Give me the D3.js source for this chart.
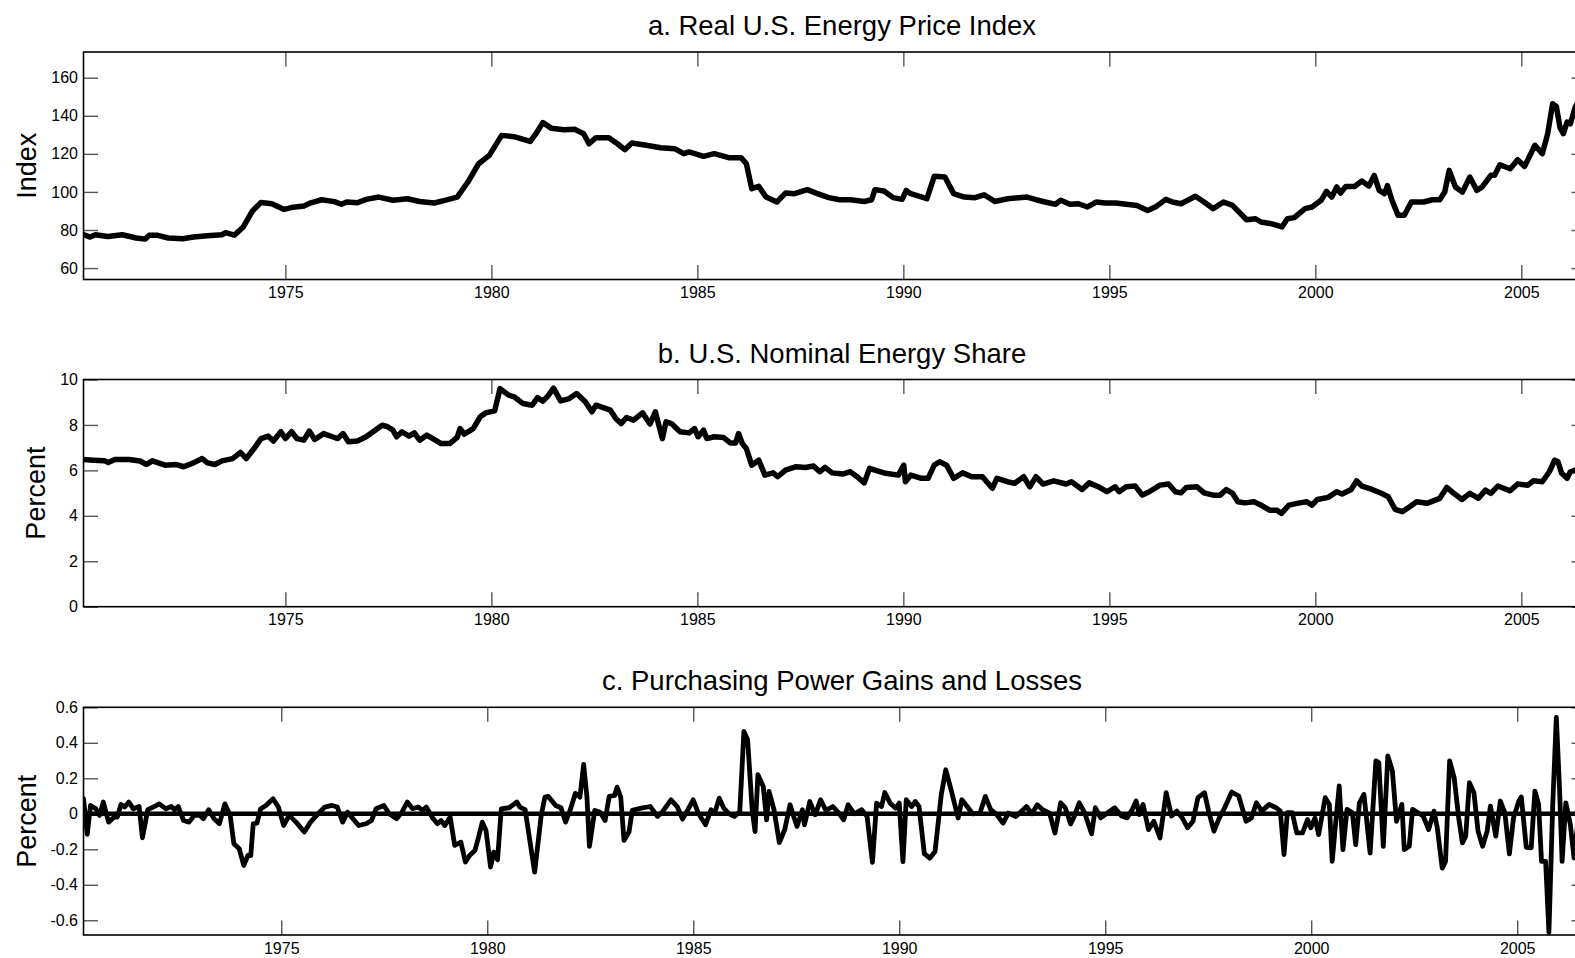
<!DOCTYPE html>
<html>
<head>
<meta charset="utf-8">
<script src="https://cdn.jsdelivr.net/npm/d3@7"></script>
<style>
  html, body { margin: 0; padding: 0; background: #fff; overflow: hidden; }
  svg { display: block; }
  text { font-family: "Liberation Sans", Arial, Helvetica, sans-serif; fill: #000; }
</style>
</head>
<body>
<svg id="chart" width="1600" height="958"></svg>
<script>
// ---- data -------------------------------------------------------------
const yearTicks = [1975, 1980, 1985, 1990, 1995, 2000, 2005];

// a. Real U.S. energy price index (decimal year, index)
const priceYears = [
  1970.11,1970.26,1970.39,1970.69,1971.04,1971.38,1971.60,1971.69,1971.90,1972.16,
  1972.51,1972.77,1973.11,1973.46,1973.55,1973.76,1973.98,1974.20,1974.41,1974.67,
  1974.97,1975.19,1975.45,1975.62,1975.88,1976.19,1976.36,1976.49,1976.75,1976.96,
  1977.27,1977.61,1977.96,1978.26,1978.61,1978.87,1979.17,1979.43,1979.69,1979.95,
  1980.25,1980.55,1980.94,1981.07,1981.25,1981.46,1981.76,1982.02,1982.24,1982.37,
  1982.54,1982.85,1983.06,1983.24,1983.41,1983.76,1984.11,1984.45,1984.67,1984.80,
  1985.15,1985.41,1985.76,1986.06,1986.19,1986.32,1986.49,1986.67,1986.93,1987.14,
  1987.36,1987.67,1987.88,1988.19,1988.45,1988.71,1989.05,1989.23,1989.31,1989.53,
  1989.75,1989.97,1990.07,1990.18,1990.40,1990.57,1990.75,1991.01,1991.22,1991.48,
  1991.74,1991.96,1992.22,1992.53,1993.00,1993.22,1993.44,1993.69,1993.82,1994.04,
  1994.25,1994.47,1994.68,1994.90,1995.15,1995.41,1995.67,1995.93,1996.14,1996.37,
  1996.53,1996.74,1997.09,1997.30,1997.52,1997.77,1997.99,1998.33,1998.55,1998.68,
  1998.93,1999.19,1999.32,1999.49,1999.75,1999.92,2000.14,2000.27,2000.40,2000.52,
  2000.61,2000.74,2000.95,2001.13,2001.30,2001.43,2001.55,2001.68,2001.75,2001.86,
  2002.01,2002.16,2002.33,2002.63,2002.84,2003.02,2003.14,2003.25,2003.40,2003.57,
  2003.75,2003.92,2004.05,2004.26,2004.35,2004.48,2004.73,2004.91,2005.08,2005.33,
  2005.51,2005.64,2005.76,2005.85,2005.94,2006.02,2006.11,2006.19,2006.31,2006.45
];
const priceValues = [
  77.5,76.3,77.5,76.6,77.5,75.8,75.2,77.2,77.2,75.8,
  75.4,76.3,77.0,77.5,78.6,77.3,81.6,90.0,94.5,93.8,
  90.8,92.0,92.6,94.3,95.9,94.9,93.5,94.7,94.3,96.1,
  97.3,95.6,96.4,95.0,94.2,95.6,97.3,105.2,114.8,119.2,
  129.7,129.0,126.5,130.2,136.4,133.4,132.7,132.9,130.6,125.3,
  128.5,128.5,125.3,122.2,125.7,124.5,123.2,122.7,120.1,121.0,
  118.7,120.1,118.0,118.0,114.8,101.7,102.9,97.3,94.7,99.4,
  99.1,101.2,99.4,97.0,95.9,95.9,95.0,95.9,101.2,100.5,
  97.0,96.1,100.8,99.1,97.7,96.4,108.2,107.8,99.1,97.3,
  97.0,98.5,95.0,96.4,97.3,95.9,94.7,93.5,95.6,93.5,
  93.8,92.1,94.7,94.2,94.2,93.5,92.9,90.3,92.4,96.1,
  94.7,93.8,97.7,94.7,91.2,94.7,92.9,85.4,85.9,84.2,
  83.3,81.6,85.9,86.5,91.2,92.1,95.6,100.3,97.3,102.6,
  99.4,102.9,102.9,105.7,103.1,108.7,100.8,99.1,103.3,95.6,
  87.7,87.7,94.7,94.7,95.9,95.9,99.9,111.3,102.6,99.9,
  107.8,100.8,102.6,108.7,108.7,114.3,112.2,116.9,113.4,124.5,
  120.1,130.6,146.3,144.9,133.7,130.6,136.7,135.8,144.6,150.0
];

// b. U.S. nominal energy share (decimal year, percent)
const shareYears = [
  1970.11,1970.34,1970.61,1970.70,1970.86,1971.21,1971.47,1971.63,1971.77,1972.08,
  1972.34,1972.53,1972.77,1972.98,1973.11,1973.29,1973.46,1973.72,1973.91,1974.05,
  1974.24,1974.41,1974.58,1974.71,1974.89,1975.00,1975.15,1975.28,1975.45,1975.58,
  1975.71,1975.93,1976.14,1976.27,1976.40,1976.53,1976.75,1976.96,1977.18,1977.35,
  1977.48,1977.61,1977.70,1977.83,1978.00,1978.13,1978.26,1978.43,1978.61,1978.78,
  1978.99,1979.17,1979.24,1979.34,1979.56,1979.73,1979.86,1980.08,1980.21,1980.42,
  1980.55,1980.77,1980.99,1981.12,1981.25,1981.37,1981.51,1981.68,1981.89,1982.07,
  1982.28,1982.44,1982.54,1982.89,1983.02,1983.15,1983.28,1983.45,1983.67,1983.85,
  1983.98,1984.15,1984.24,1984.37,1984.58,1984.80,1984.93,1985.02,1985.15,1985.23,
  1985.41,1985.63,1985.80,1985.93,1986.00,1986.09,1986.19,1986.32,1986.49,1986.64,
  1986.84,1986.95,1987.14,1987.40,1987.62,1987.82,1987.97,1988.10,1988.27,1988.53,
  1988.71,1988.88,1989.05,1989.18,1989.31,1989.57,1989.88,1990.01,1990.05,1990.18,
  1990.44,1990.60,1990.75,1990.88,1991.05,1991.22,1991.44,1991.66,1991.92,1992.16,
  1992.27,1992.53,1992.70,1992.92,1993.07,1993.22,1993.39,1993.65,1993.95,1994.08,
  1994.34,1994.51,1994.73,1994.94,1995.14,1995.24,1995.41,1995.63,1995.80,1995.97,
  1996.23,1996.44,1996.60,1996.74,1996.87,1997.13,1997.30,1997.52,1997.69,1997.84,
  1997.99,1998.12,1998.29,1998.51,1998.68,1998.89,1999.06,1999.18,1999.36,1999.62,
  1999.79,1999.92,2000.05,2000.31,2000.52,2000.65,2000.87,2001.00,2001.13,2001.38,
  2001.60,2001.77,2001.94,2002.11,2002.29,2002.46,2002.71,2003.02,2003.19,2003.36,
  2003.56,2003.75,2003.96,2004.13,2004.26,2004.43,2004.73,2004.91,2005.16,2005.29,
  2005.51,2005.68,2005.81,2005.89,2005.98,2006.11,2006.19,2006.31,2006.45
];
const shareValues = [
  6.48,6.45,6.42,6.35,6.48,6.48,6.41,6.26,6.42,6.23,
  6.26,6.16,6.33,6.52,6.33,6.26,6.42,6.52,6.79,6.52,
  6.96,7.40,7.51,7.29,7.70,7.40,7.70,7.40,7.33,7.73,
  7.36,7.62,7.48,7.40,7.62,7.26,7.29,7.48,7.77,7.99,
  7.92,7.77,7.48,7.70,7.51,7.65,7.33,7.55,7.36,7.18,
  7.18,7.45,7.84,7.60,7.84,8.36,8.53,8.62,9.60,9.31,
  9.24,8.94,8.87,9.20,9.05,9.27,9.62,9.06,9.16,9.38,
  9.02,8.58,8.87,8.65,8.28,8.06,8.33,8.21,8.53,8.04,
  8.58,7.40,8.14,8.06,7.70,7.65,7.84,7.48,7.77,7.40,
  7.48,7.45,7.21,7.21,7.62,7.18,6.96,6.23,6.45,5.79,
  5.89,5.72,6.01,6.16,6.13,6.19,5.94,6.13,5.89,5.84,
  5.94,5.72,5.45,6.09,6.01,5.87,5.79,6.23,5.50,5.79,
  5.65,5.65,6.23,6.38,6.23,5.65,5.89,5.72,5.72,5.21,
  5.65,5.50,5.43,5.72,5.28,5.72,5.40,5.54,5.40,5.50,
  5.16,5.45,5.28,5.06,5.28,5.06,5.28,5.31,4.91,5.06,
  5.35,5.40,5.06,5.01,5.25,5.28,5.01,4.91,4.91,5.16,
  4.99,4.62,4.57,4.62,4.47,4.25,4.25,4.11,4.47,4.57,
  4.62,4.47,4.72,4.81,5.06,4.96,5.16,5.54,5.31,5.16,
  4.99,4.84,4.28,4.18,4.40,4.62,4.55,4.77,5.25,4.99,
  4.72,4.99,4.77,5.13,4.99,5.31,5.10,5.40,5.35,5.54,
  5.50,5.94,6.45,6.38,5.87,5.65,5.94,6.01,6.20
];

// c. Purchasing power gains and losses (decimal year, percent)
const gainYears = [
  1970.20,1970.29,1970.37,1970.50,1970.59,1970.68,1970.81,1970.94,1971.02,1971.11,
  1971.20,1971.30,1971.41,1971.55,1971.63,1971.76,1971.89,1972.04,1972.20,1972.33,
  1972.41,1972.50,1972.63,1972.76,1972.89,1973.02,1973.11,1973.24,1973.37,1973.50,
  1973.63,1973.76,1973.85,1973.98,1974.09,1974.19,1974.26,1974.32,1974.41,1974.50,
  1974.63,1974.80,1974.93,1975.06,1975.19,1975.36,1975.56,1975.71,1975.89,1976.06,
  1976.23,1976.36,1976.49,1976.61,1976.71,1976.88,1977.06,1977.19,1977.30,1977.49,
  1977.62,1977.80,1977.93,1978.06,1978.19,1978.32,1978.43,1978.52,1978.66,1978.79,
  1978.88,1978.97,1979.10,1979.21,1979.36,1979.47,1979.57,1979.70,1979.79,1979.88,
  1979.97,1980.08,1980.16,1980.25,1980.34,1980.53,1980.66,1980.72,1980.79,1980.92,
  1981.15,1981.31,1981.40,1981.48,1981.66,1981.79,1981.90,1982.01,1982.14,1982.25,
  1982.34,1982.42,1982.48,1982.61,1982.74,1982.86,1982.96,1983.09,1983.15,1983.24,
  1983.32,1983.44,1983.52,1983.74,1983.96,1984.13,1984.26,1984.46,1984.61,1984.74,
  1984.87,1985.00,1985.13,1985.30,1985.43,1985.52,1985.63,1985.74,1985.87,1986.00,
  1986.13,1986.23,1986.32,1986.43,1986.50,1986.57,1986.70,1986.78,1986.84,1986.96,
  1987.09,1987.22,1987.35,1987.45,1987.52,1987.65,1987.70,1987.83,1987.96,1988.09,
  1988.22,1988.39,1988.52,1988.65,1988.76,1988.91,1989.09,1989.22,1989.35,1989.45,
  1989.57,1989.65,1989.78,1989.91,1990.00,1990.09,1990.17,1990.30,1990.39,1990.48,
  1990.61,1990.74,1990.87,1991.02,1991.13,1991.26,1991.43,1991.52,1991.65,1991.78,
  1991.96,1992.09,1992.22,1992.35,1992.52,1992.65,1992.83,1992.96,1993.09,1993.22,
  1993.35,1993.48,1993.65,1993.78,1993.92,1994.03,1994.16,1994.24,1994.37,1994.50,
  1994.67,1994.76,1994.89,1995.06,1995.23,1995.40,1995.53,1995.66,1995.75,1995.83,
  1995.92,1996.05,1996.18,1996.33,1996.48,1996.61,1996.74,1996.87,1997.00,1997.13,
  1997.25,1997.41,1997.51,1997.64,1997.77,1997.90,1998.07,1998.24,1998.42,1998.55,
  1998.67,1998.80,1998.98,1999.15,1999.25,1999.34,1999.42,1999.54,1999.65,1999.79,
  1999.91,1999.99,2000.09,2000.18,2000.34,2000.44,2000.51,2000.59,2000.68,2000.77,
  2000.87,2001.00,2001.08,2001.17,2001.28,2001.43,2001.57,2001.64,2001.75,2001.86,
  2001.97,2002.07,2002.20,2002.26,2002.38,2002.46,2002.59,2002.72,2002.85,2002.98,
  2003.06,2003.18,2003.26,2003.36,2003.47,2003.58,2003.67,2003.75,2003.84,2003.95,
  2004.05,2004.16,2004.27,2004.35,2004.48,2004.59,2004.70,2004.81,2004.91,2005.04,
  2005.10,2005.22,2005.34,2005.43,2005.52,2005.59,2005.69,2005.77,2005.86,2005.95,
  2006.03,2006.09,2006.18,2006.29,2006.38,2006.47,2006.56
];
const gainValues = [
  0.085,-0.116,0.047,0.028,-0.009,0.066,-0.047,-0.019,-0.019,0.053,
  0.038,0.066,0.028,0.041,-0.135,0.023,0.038,0.056,0.028,0.041,
  0.023,0.041,-0.038,-0.047,-0.009,-0.009,-0.028,0.023,-0.028,-0.056,
  0.056,-0.009,-0.169,-0.197,-0.291,-0.235,-0.235,-0.056,-0.053,0.028,
  0.047,0.085,0.038,-0.066,-0.009,-0.047,-0.103,-0.047,0.000,0.038,
  0.047,0.038,-0.047,0.009,-0.019,-0.066,-0.056,-0.038,0.028,0.047,
  0.000,-0.028,0.009,0.066,0.028,0.038,0.019,0.038,-0.019,-0.056,
  -0.038,-0.066,-0.019,-0.178,-0.160,-0.272,-0.235,-0.207,-0.131,-0.047,
  -0.094,-0.300,-0.216,-0.259,0.028,0.034,0.056,0.066,0.038,0.023,
  -0.329,-0.009,0.094,0.098,0.047,0.034,-0.047,0.019,0.116,0.094,
  0.278,0.094,-0.184,0.019,0.009,-0.038,0.098,0.103,0.150,0.094,
  -0.150,-0.103,0.019,0.032,0.041,-0.015,0.013,0.079,0.041,-0.030,
  0.023,0.079,0.000,-0.062,0.023,0.004,0.088,0.032,0.000,-0.015,
  0.013,0.464,0.417,0.023,-0.100,0.220,0.154,-0.034,0.126,0.023,
  -0.162,-0.090,0.051,-0.024,-0.071,0.023,-0.062,0.069,-0.006,0.079,
  0.019,0.041,0.008,-0.034,0.051,0.000,0.023,-0.015,-0.274,0.060,
  0.041,0.120,0.060,0.032,0.060,-0.269,0.079,0.041,0.069,0.041,
  -0.225,-0.250,-0.212,0.107,0.248,0.135,-0.024,0.079,0.041,0.000,
  0.004,0.098,0.023,0.000,-0.053,0.004,-0.015,0.013,0.041,0.000,
  0.051,0.023,0.004,-0.109,0.062,0.034,-0.057,-0.019,0.062,0.006,
  -0.113,0.034,-0.023,0.006,0.034,-0.013,-0.023,0.025,0.072,-0.004,
  0.053,-0.089,-0.042,-0.136,0.119,-0.013,0.015,-0.023,-0.079,-0.042,
  0.091,0.119,0.015,-0.098,-0.023,0.034,0.123,0.100,-0.042,-0.023,
  0.062,0.015,0.053,0.034,0.015,-0.230,0.006,0.006,-0.108,-0.108,
  -0.032,-0.079,-0.023,-0.117,0.091,0.053,-0.268,-0.060,0.157,-0.202,
  0.025,0.006,-0.174,0.062,0.109,-0.221,0.298,0.289,-0.183,0.326,
  0.242,-0.042,0.053,-0.202,-0.183,0.025,0.006,-0.013,-0.089,0.015,
  -0.079,-0.306,-0.268,0.298,0.204,-0.023,-0.164,-0.126,0.175,0.119,
  -0.098,-0.183,-0.098,0.043,-0.126,0.072,0.006,-0.226,-0.023,0.072,
  0.094,-0.189,-0.192,0.128,0.053,-0.268,-0.268,-0.668,0.034,0.543,
  0.128,-0.268,0.062,-0.060,-0.249,-0.050,0.100
];

// axis tick values and their printed labels
const priceTicks = [60, 80, 100, 120, 140, 160];
const priceTickLabels = ["60", "80", "100", "120", "140", "160"];
const shareTicks = [0, 2, 4, 6, 8, 10];
const shareTickLabels = ["0", "2", "4", "6", "8", "10"];
const gainTicks = [-0.6, -0.4, -0.2, 0, 0.2, 0.4, 0.6];
const gainTickLabels = ["-0.6", "-0.4", "-0.2", "0", "0.2", "0.4", "0.6"];

const panelTitles = [
  "a. Real U.S. Energy Price Index",
  "b. U.S. Nominal Energy Share",
  "c. Purchasing Power Gains and Losses"
];
const axisTitles = ["Index", "Percent", "Percent"];

// ---- layout -----------------------------------------------------------
const plotLeft = 83.5, plotRight = 1586;
const panels = [
  { top: 52,    bottom: 279.5, xDomain: [1970.1, 2006.57], yDomain: [54, 173.5],
    years: priceYears, values: priceValues, ticks: priceTicks, labels: priceTickLabels,
    title: panelTitles[0], yTitle: axisTitles[0], yTitleX: 35.5, zero: false },
  { top: 379.5, bottom: 606.7, xDomain: [1970.1, 2006.57], yDomain: [0, 10],
    years: shareYears, values: shareValues, ticks: shareTicks, labels: shareTickLabels,
    title: panelTitles[1], yTitle: axisTitles[1], yTitleX: 44.5, zero: false },
  { top: 707.3, bottom: 935,   xDomain: [1970.2, 2006.67], yDomain: [-0.683, 0.6],
    years: gainYears, values: gainValues, ticks: gainTicks, labels: gainTickLabels,
    title: panelTitles[2], yTitle: axisTitles[2], yTitleX: 35.5, zero: true }
];

const svg = d3.select("#chart");
const tickLen = 14.5;
const tickColor = "#555";

panels.forEach((p, i) => {
  const x = d3.scaleLinear().domain(p.xDomain).range([plotLeft, plotRight]);
  const y = d3.scaleLinear().domain(p.yDomain).range([p.bottom, p.top]);
  const g = svg.append("g");

  const clipId = "clip" + i;
  svg.append("clipPath").attr("id", clipId)
    .append("rect")
    .attr("x", plotLeft).attr("y", p.top)
    .attr("width", plotRight - plotLeft).attr("height", p.bottom - p.top);

  // axes with inward ticks on all four sides
  const styleAxis = sel => {
    sel.select(".domain").remove();
    sel.selectAll(".tick line").attr("stroke", tickColor).attr("stroke-width", 1.4);
    sel.selectAll(".tick text").attr("fill", "#000").attr("font-size", 16)
      .attr("font-family", '"Liberation Sans", Arial, sans-serif');
  };

  g.append("g").attr("transform", `translate(0,${p.bottom})`)
    .call(d3.axisBottom(x).tickValues(yearTicks).tickFormat(d3.format("d"))
      .tickSizeInner(-tickLen).tickSizeOuter(0).tickPadding(7.4))
    .call(styleAxis);
  g.append("g").attr("transform", `translate(0,${p.top})`)
    .call(d3.axisTop(x).tickValues(yearTicks).tickFormat("")
      .tickSizeInner(-tickLen).tickSizeOuter(0))
    .call(styleAxis);
  g.append("g").attr("transform", `translate(${plotLeft},0)`)
    .call(d3.axisLeft(y).tickValues(p.ticks).tickFormat((d, k) => p.labels[k])
      .tickSizeInner(-tickLen).tickSizeOuter(0).tickPadding(5.5))
    .call(styleAxis);
  g.append("g").attr("transform", `translate(${plotRight},0)`)
    .call(d3.axisRight(y).tickValues(p.ticks).tickFormat("")
      .tickSizeInner(-tickLen).tickSizeOuter(0))
    .call(styleAxis);

  // frame
  g.append("rect")
    .attr("x", plotLeft).attr("y", p.top)
    .attr("width", plotRight - plotLeft).attr("height", p.bottom - p.top)
    .attr("fill", "none").attr("stroke", "#000").attr("stroke-width", 1.6);

  const plot = g.append("g").attr("clip-path", `url(#${clipId})`);

  if (p.zero) {
    plot.append("line")
      .attr("x1", plotLeft).attr("x2", plotRight)
      .attr("y1", y(0)).attr("y2", y(0))
      .attr("stroke", "#000").attr("stroke-width", 4.5);
  }

  const line = d3.line().x(d => x(d[0])).y(d => y(d[1]));
  plot.append("path")
    .datum(d3.zip(p.years, p.values))
    .attr("d", line)
    .attr("fill", "none")
    .attr("stroke", "#000")
    .attr("stroke-width", i === 2 ? 4.8 : 5.5)
    .attr("stroke-linejoin", "round")
    .attr("stroke-linecap", "round");

  // panel title
  svg.append("text")
    .attr("x", 842).attr("y", p.top - 17)
    .attr("text-anchor", "middle")
    .attr("font-size", 27.5)
    .text(p.title);

  // y-axis title
  svg.append("text")
    .attr("transform", `translate(${p.yTitleX},${(p.top + p.bottom) / 2}) rotate(-90)`)
    .attr("text-anchor", "middle")
    .attr("font-size", 27)
    .text(p.yTitle);
});
</script>
</body>
</html>
